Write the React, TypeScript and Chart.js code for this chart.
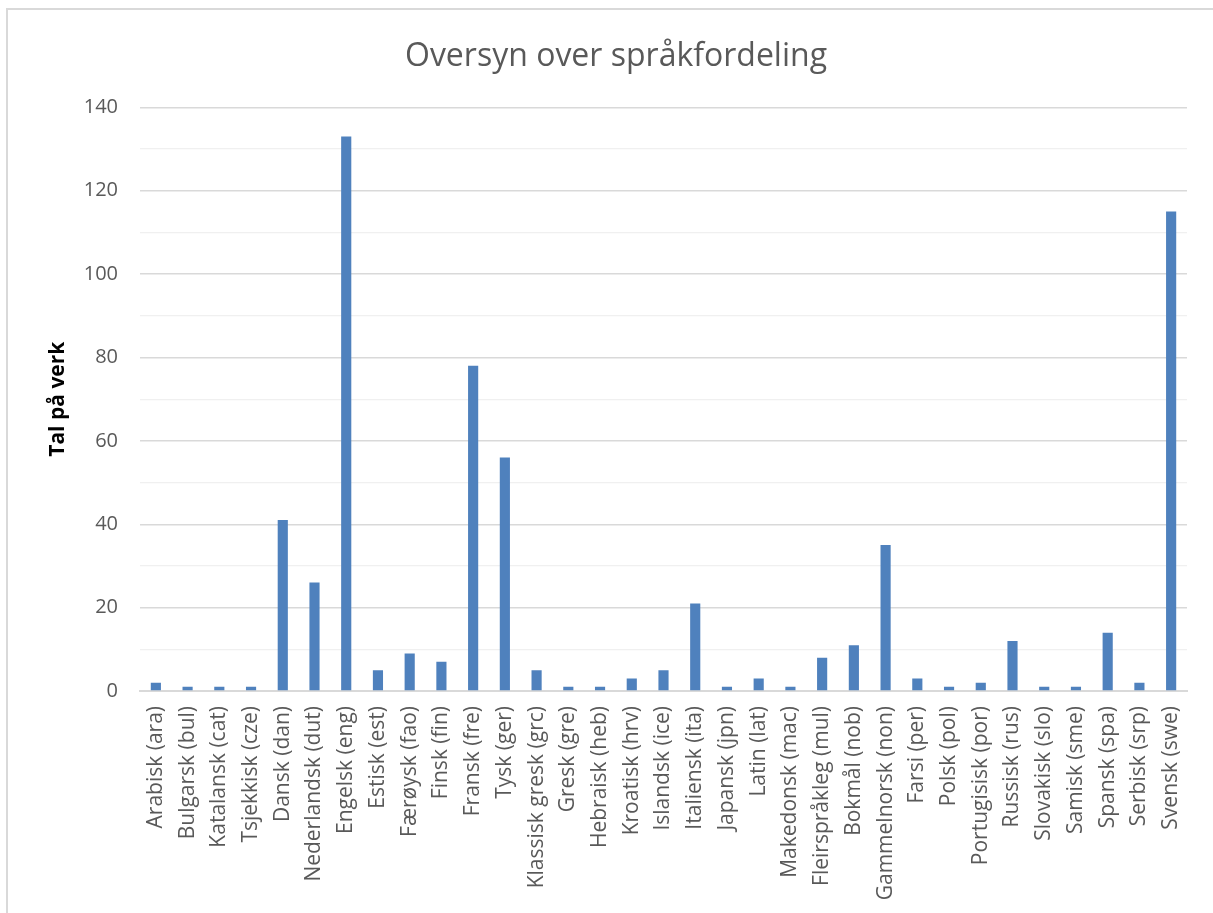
import React, { useEffect, useRef } from "react";
import { Chart, registerables } from "chart.js";

Chart.register(...registerables);

const TITLE = "Oversyn over språkfordeling";
const Y_TITLE = "Tal på verk";

const categories = [
  "Arabisk (ara)", "Bulgarsk (bul)", "Katalansk (cat)", "Tsjekkisk (cze)", "Dansk (dan)",
  "Nederlandsk (dut)", "Engelsk (eng)", "Estisk (est)", "Færøysk (fao)", "Finsk (fin)",
  "Fransk (fre)", "Tysk (ger)", "Klassisk gresk (grc)", "Gresk (gre)", "Hebraisk (heb)",
  "Kroatisk (hrv)", "Islandsk (ice)", "Italiensk (ita)", "Japansk (jpn)", "Latin (lat)",
  "Makedonsk (mac)", "Fleirspråkleg (mul)", "Bokmål (nob)", "Gammelnorsk (non)", "Farsi (per)",
  "Polsk (pol)", "Portugisisk (por)", "Russisk (rus)", "Slovakisk (slo)", "Samisk (sme)",
  "Spansk (spa)", "Serbisk (srp)", "Svensk (swe)",
];

const values = [
  2, 1, 1, 1, 41,
  26, 133, 5, 9, 7,
  78, 56, 5, 1, 1,
  3, 5, 21, 1, 3,
  1, 8, 11, 35, 3,
  1, 2, 12, 1, 1,
  14, 2, 115,
];

const Y_MIN = 0;
const Y_MAX = 140;
const Y_STEP = 10;
const Y_LABEL_STEP = 20;

export default function App() {
  const ref = useRef<HTMLCanvasElement | null>(null);

  useEffect(() => {
    if (!ref.current) return;
    const font = "'Open Sans', 'Noto Sans', sans-serif";
    const chart = new Chart(ref.current, {
      type: "bar",
      data: {
        labels: categories,
        datasets: [
          {
            data: values,
            backgroundColor: "#4f81bd",
            borderWidth: 0,
            barPercentage: 0.32,
            categoryPercentage: 1,
          },
        ],
      },
      options: {
        animation: false,
        responsive: false,
        maintainAspectRatio: false,
        layout: { padding: { left: 45, right: 26, top: 0, bottom: 0 } },
        plugins: {
          legend: { display: false },
          tooltip: { enabled: false },
          title: {
            display: true,
            text: TITLE,
            color: "#595959",
            font: { family: font, size: 32, weight: "normal", lineHeight: 1.2 },
            padding: { top: 38, bottom: 31 },
          },
        },
        scales: {
          x: {
            grid: { display: false, drawTicks: false },
            border: { display: true, color: "#d9d9d9", width: 2 },
            ticks: {
              color: "#595959",
              font: { family: font, size: 21 },
              minRotation: 90,
              maxRotation: 90,
              autoSkip: false,
              padding: 15,
            },
            afterFit: (s: any) => {
              s.height = 222;
            },
          },
          y: {
            min: Y_MIN,
            max: Y_MAX,
            grid: {
              drawTicks: false,
              color: (ctx: any) =>
                ctx.tick && ctx.tick.value % Y_LABEL_STEP === 0 ? "#d9d9d9" : "#f0f0f0",
              lineWidth: (ctx: any) =>
                ctx.tick && ctx.tick.value % Y_LABEL_STEP === 0 ? 1.5 : 1.2,
            },
            border: { display: false },
            ticks: {
              stepSize: Y_STEP,
              color: "#595959",
              font: { family: font, size: 20 },
              padding: 22,
              callback: (v: any) => (Number(v) % Y_LABEL_STEP === 0 ? String(v) : ""),
            },
            title: {
              display: true,
              text: Y_TITLE,
              color: "#000000",
              font: { family: font, size: 21, weight: "bold" },
              padding: { top: 0, bottom: 0 },
            },
            afterFit: (s: any) => {
              s.width = 95;
            },
          },
        },
      },
    });
    return () => chart.destroy();
  }, []);

  return (
    <div style={{ position: "absolute", left: 0, top: 0, width: 1213, height: 913, background: "#fff" }}>
      <div
        style={{
          position: "absolute",
          left: 6,
          top: 8,
          width: 1213,
          height: 913,
          borderLeft: "2px solid #d9d9d9",
          borderTop: "2px solid #d9d9d9",
        }}
      />
      <canvas ref={ref} width={1213} height={913} style={{ position: "absolute", left: 0, top: 0 }} />
    </div>
  );
}
